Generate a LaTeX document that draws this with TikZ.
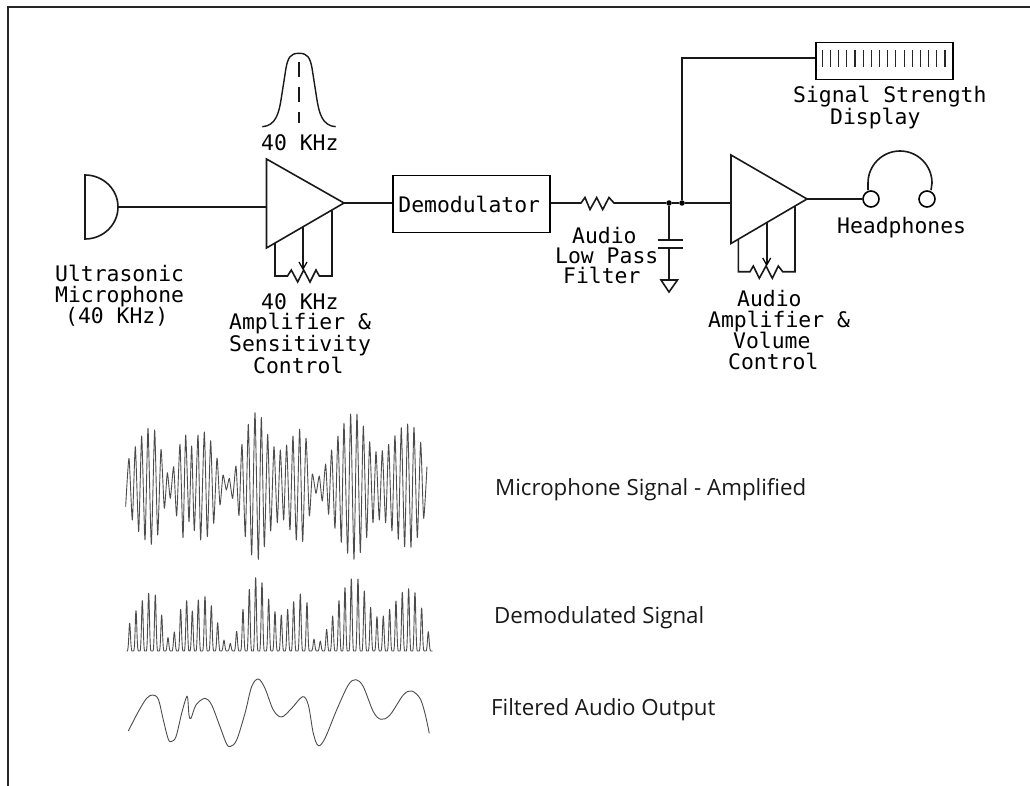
\documentclass[tikz,border=0pt]{standalone}
\usepackage{fontspec}
\usetikzlibrary{calc}
\newfontfamily\diagfont{DejaVu Sans Mono}
\newfontfamily\capfont{Open Sans}
\begin{document}
\begin{tikzpicture}[x=1pt,y=-1pt,
  wire/.style={line width=1.6pt,black!90,line join=miter},
  lbl/.style={font=\diagfont\fontsize{21.4}{20.2}\selectfont,inner sep=0pt,align=left,anchor=west},
  captext/.style={font=\capfont\fontsize{22.3}{26}\selectfont,inner sep=0pt,anchor=west,text=black!90},
  box/.style={draw,line width=1.5pt,inner sep=0pt,anchor=north west},
  junction/.style={circle,fill=black,inner sep=0pt,minimum size=5.5pt},
  phone/.style={circle,draw,line width=1.6pt,inner sep=0pt,minimum size=16pt},
  trace/.style={line width=.9pt,black!70,line join=round}]
\useasboundingbox (0,0) rectangle (1030,786);
% frame
\draw[line width=2pt,black!85] (7.5,786) -- (7.5,7.5) -- (1030,7.5);
% nodes
\coordinate (micT) at (85,175);
\coordinate (micB) at (85,239);
\coordinate (micO) at (118,207);
\coordinate (a1T) at (266.5,159);
\coordinate (a1B) at (266.5,248);
\coordinate (a1I) at (266.5,207);
\coordinate (a1O) at (344,203);
\node[box,minimum width=157pt,minimum height=57pt,font=\diagfont\fontsize{21.4}{20}\selectfont] (demod) at (392,175) {\kern-4pt Demodulator};
\coordinate (r1L) at (581,203);
\coordinate (r1R) at (614,203);
\node[junction] (j1) at (669,203) {};
\node[junction] (j2) at (682,203) {};
\coordinate (a2T) at (731,155);
\coordinate (a2B) at (731,243.5);
\coordinate (a2I) at (731,203);
\coordinate (a2O) at (807,199);
\node[box,minimum width=137pt,minimum height=37pt] (disp) at (815,42) {};
\node[phone] (pL) at (871,199) {};
\node[phone] (pR) at (927,199) {};
\coordinate (corner) at (682,58);
% microphone
\draw[wire] (micT) arc[start angle=-90,end angle=90,x radius=33,y radius=32] -- cycle;
\draw[wire] (micO) -- (a1I);
% amp 1
\draw[wire] (a1T) -- (a1O) -- (a1B) -- cycle;
\draw[wire] (a1O) -- (demod.west |- a1O);
\draw[wire] (275,243) -- (275,276) -- (287.5,276) -- (291.3,270) -- (297.7,282) -- (303.7,270) -- (310,282) -- (316,270) -- (319.3,276) -- (332,276) -- (332,210.5);
\draw[wire] (303,227) -- (303,269);
\draw[line width=1.2pt] (299,262) -- (303,269) -- (307,262);
% band pass curve
\draw[wire,line width=1.4pt] (262.3,126.7) .. controls (276,126) and (279,112) .. (281,100) -- (286,68) .. controls (288,58) and (290,53.3) .. (299,53.3) .. controls (308,53.3) and (310,58) .. (312,68) -- (317,100) .. controls (319,112) and (322,126) .. (335.7,126.7);
\draw[wire] (299,62) -- (299,77);
\draw[wire] (299,87) -- (299,102);
\draw[wire] (299,112) -- (299,123);
% demod to filter
\draw[wire] (demod.east |- r1L) -- (r1L) -- (585,197.5) -- (590,209.5) -- (596.7,197.5) -- (602.7,209.5) -- (609,197.5) -- (r1R) -- (j1) -- (j2) -- (a2I);
% capacitor
\draw[wire] (j1) -- (669,240);
\draw[wire] (657.5,240) -- (682.5,240);
\draw[wire] (657.5,248) -- (682.5,248);
\draw[wire] (669,248) -- (669,280);
\draw[wire] (661,280) -- (677.5,280) -- (669,292) -- cycle;
% display
\draw[wire] (j2) -- (corner) -- (disp.west |- corner);
\foreach \k in {0,...,15} \draw[line width=1.1pt,black!85] ({822.3+8.18*\k},50) -- ({822.3+8.18*\k},67);
% amp 2
\draw[wire] (a2T) -- (a2O) -- (a2B) -- cycle;
\draw[wire] (a2O) -- (pL);
\draw[wire] (738.3,239.5) -- (738.3,271.7) -- (750,271.7) -- (753.3,266) -- (759.3,278.3) -- (766,266) -- (772.3,278.3) -- (778.3,266) -- (782.7,271.7) -- (795,271.7) -- (795,206);
\draw[wire] (766.7,222) -- (766.7,264);
\draw[line width=1.2pt] (762.7,258) -- (766.7,265) -- (770.7,258);
% headphones
\draw[wire] ($(pL.north)+(-3,0)$) -- (868,183) arc[start angle=180,end angle=360,radius=32] -- ($(pR.north)+(4,0)$);
% labels
\node[lbl] (l1) at (55,296) {Ultrasonic\\Microphone\\\hspace*{10pt}(40 KHz)};
\node[lbl] (l2) at (261,143) {40 KHz};
\node[lbl] (l3) at (229,333.5) {\hspace*{32pt}40 KHz\\Amplifier \&\\Sensitivity\\\hspace*{24pt}Control};
\node[lbl] (l4) at (555,255.5) {\hspace*{17pt}Audio\\Low Pass\\\hspace*{8pt}Filter};
\node[lbl] (l5) at (793,107.5) {Signal Strength\\\hspace*{37pt}Display};
\node[lbl] (l6) at (837,227.5) {Headphones};
\node[lbl] (l7) at (708,330) {\hspace*{29pt}Audio\\Amplifier \&\\\hspace*{25pt}Volume\\\hspace*{20pt}Control};
\node[captext] (c1) at (495,490) {Microphone Signal - Amplified};
\node[captext] (c2) at (494,617.5) {Demodulated Signal};
\node[captext] (c3) at (491,710) {Filtered Audio Output};
% traces
\begin{scope}[shift={(110,400)},x=.3333pt,y=-.3333pt]
\draw[trace] plot[smooth,tension=.35] coordinates {(47,320) (57,175) (67,360) (76,140) (86,395) (95,108) (105,420) (114,85) (124,433) (134,90) (143,405) (153,148) (163,325) (172,218) (181,295) (191,200) (200,348) (210,133) (219,413) (227,105) (237,365) (245,138) (253,392) (264,105) (272,420) (283,96) (292,410) (302,122) (311,370) (321,174) (330,315) (339,225) (349,270) (358,235) (368,295) (378,198) (387,347) (396,133) (406,410) (415,73) (425,465) (435,38) (445,478) (454,52) (463,440) (473,103) (482,393) (492,140) (502,368) (511,150) (521,360) (530,135) (540,390) (549,108) (559,420) (569,88) (578,425) (588,115) (598,348) (607,222) (618,280) (628,228) (637,303) (647,192) (656,343) (665,150) (675,385) (684,108) (694,427) (702,70) (713,460) (722,42) (732,478) (741,42) (751,458) (760,78) (770,413) (779,125) (789,368) (798,155) (808,360) (817,152) (827,368) (836,133) (846,393) (855,107) (865,418) (874,83) (884,440) (893,72) (903,442) (912,82) (922,413) (932,127) (941,355) (951,200)};
\end{scope}
\begin{scope}[shift={(110,570)},x=.3333pt,y=-.3333pt]
\draw[trace] (50,243) \foreach \x/\y in {59/160,78/122,97/92,116/70,136/75,155/135,174/203,193/186,212/118,230/92,247/123,265/90,285/80,304/107,323/158,342/210,361/220,380/184,399/118,418/58,437/23,456/38,476/87,495/125,514/135,533/118,551/95,571/72,591/98,612/207,631/213,650/178,668/138,687/92,705/53,724/27,744/27,763/63,782/112,801/140,820/138,839/118,858/93,877/67,896/56,915/68,935/114,955/185}{ -- ({\x-7},243) .. controls ({\x-3},243) and ({\x-2},\y) .. (\x,\y) .. controls ({\x+2},\y) and ({\x+3},243) .. ({\x+7},243) } -- (968,243);
\draw[trace] plot[smooth,tension=.55] coordinates {(55,483) (85,425) (110,385) (128,375) (145,388) (160,450) (175,508) (185,514) (198,500) (215,430) (228,385) (233,383) (237,435) (243,445) (258,405) (285,385) (305,405) (330,470) (350,522) (362,529) (380,510) (405,430) (425,350) (445,327) (465,355) (490,420) (515,441) (545,415) (578,380) (595,405) (610,490) (625,527) (645,505) (680,420) (715,345) (738,329) (760,350) (790,425) (813,448) (840,435) (880,375) (905,363) (930,385) (945,430) (958,490)};
\end{scope}
\end{tikzpicture}
\end{document}
